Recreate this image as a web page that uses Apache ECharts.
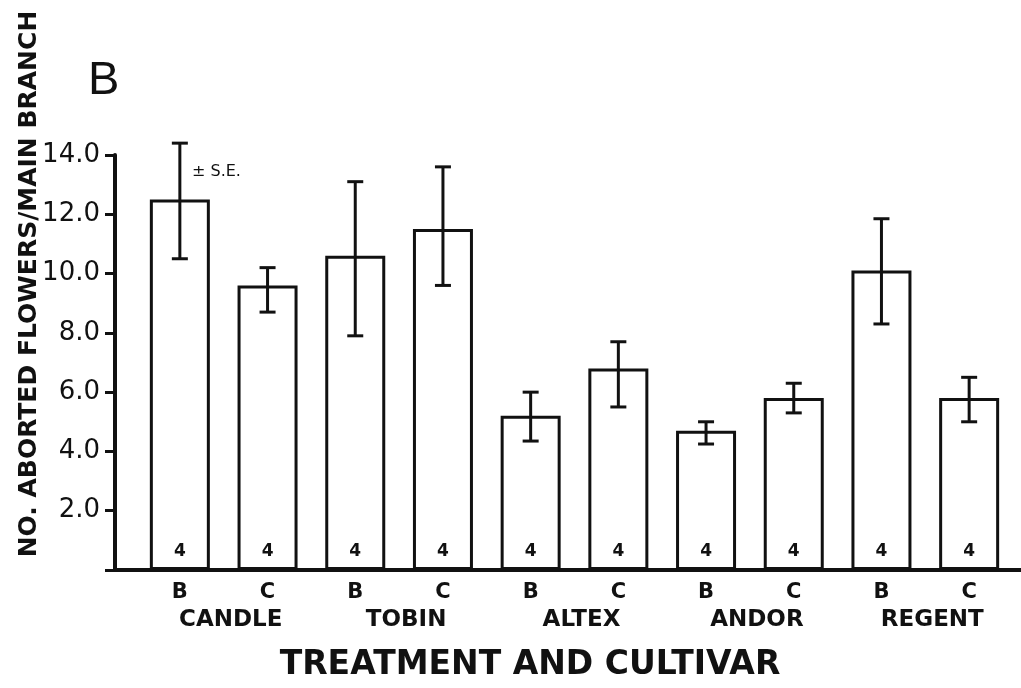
<!DOCTYPE html>
<html>
<head>
<meta charset="utf-8">
<script src="https://cdn.jsdelivr.net/npm/echarts@6/dist/echarts.min.js"></script>
<style>
html,body{margin:0;padding:0;background:#fff;}
#chart{width:1021px;height:688px;}
</style>
</head>
<body>
<div id="chart"></div>
<script>
// ---- data ----
const treatments = ['B','C','B','C','B','C','B','C','B','C'];
const cultivars = ['CANDLE','TOBIN','ALTEX','ANDOR','REGENT'];
const means   = [12.5, 9.6, 10.6, 11.5, 5.2, 6.8, 4.7, 5.8, 10.1, 5.8];
const seLow   = [10.5, 8.7, 7.9, 9.6, 4.35, 5.5, 4.25, 5.3, 8.3, 5.0];
const seHigh  = [14.4, 10.2, 13.1, 13.6, 6.0, 7.7, 5.0, 6.3, 11.85, 6.5];
const nReps   = [4, 4, 4, 4, 4, 4, 4, 4, 4, 4];
const yTicks  = ['2.0','4.0','6.0','8.0','10.0','12.0','14.0'];
const yMin = 0, yMax = 14, yStep = 2;

const errData = means.map((m, i) => [i, seLow[i], seHigh[i]]);

const chart = echarts.init(document.getElementById('chart'), null, {renderer: 'canvas'});
const TXT = '#111';
chart.setOption({
  backgroundColor: '#fff',
  animation: false,
  grid: [
    {left: 136, right: 8, top: 155, bottom: 118},
    {left: 115, right: 0, top: 155, bottom: 118}
  ],
  xAxis: [
    {
      type: 'category', gridIndex: 0, data: treatments,
      axisLine: {show: false}, axisTick: {show: false},
      axisLabel: {margin: 12, color: TXT, fontFamily: 'DejaVu Sans', fontWeight: 'bold', fontSize: 21}
    },
    {
      type: 'category', gridIndex: 0, position: 'bottom', data: cultivars,
      axisLine: {show: false}, axisTick: {show: false},
      axisLabel: {margin: 39, padding: [0, 0, 0, 14], color: TXT, fontFamily: 'DejaVu Sans', fontWeight: 'bold', fontSize: 23}
    },
    {
      type: 'value', gridIndex: 1, min: 0, max: 1,
      axisLine: {show: true, lineStyle: {color: TXT, width: 4}},
      axisTick: {show: false}, axisLabel: {show: false}, splitLine: {show: false}
    }
  ],
  yAxis: [
    {
      type: 'value', gridIndex: 0, min: yMin, max: yMax, interval: yStep, offset: 21,
      axisLine: {show: true, lineStyle: {color: TXT, width: 4}},
      axisTick: {show: true, length: 10, lineStyle: {color: TXT, width: 3}},
      splitLine: {show: false},
      axisLabel: {
        margin: 15, color: TXT, fontFamily: 'DejaVu Sans', fontSize: 26,
        formatter: v => { const k = Math.round(v / yStep) - 1; return k >= 0 ? yTicks[k] : ''; }
      }
    },
    {type: 'value', gridIndex: 1, min: 0, max: 1, show: false}
  ],
  series: [
    {
      type: 'bar', xAxisIndex: 0, yAxisIndex: 0, data: means, barWidth: 60,
      itemStyle: {color: '#fff', borderColor: TXT, borderWidth: 3},
      label: {
        show: true, position: 'insideBottom', distance: 10,
        formatter: p => String(nReps[p.dataIndex]),
        color: TXT, fontFamily: 'DejaVu Sans', fontWeight: 'bold', fontSize: 17
      }
    },
    {
      type: 'custom', xAxisIndex: 0, yAxisIndex: 0, data: errData, clip: false, z: 5,
      renderItem: function (params, api) {
        const x = api.value(0);
        const lo = api.coord([x, api.value(1)]);
        const hi = api.coord([x, api.value(2)]);
        const w = 8;
        const st = {stroke: TXT, lineWidth: 3};
        return {
          type: 'group',
          children: [
            {type: 'line', shape: {x1: lo[0], y1: lo[1], x2: hi[0], y2: hi[1]}, style: st},
            {type: 'line', shape: {x1: hi[0] - w, y1: hi[1], x2: hi[0] + w, y2: hi[1]}, style: st},
            {type: 'line', shape: {x1: lo[0] - w, y1: lo[1], x2: lo[0] + w, y2: lo[1]}, style: st}
          ]
        };
      }
    }
  ],
  graphic: [
    {type: 'text', left: 88, top: 58, style: {text: 'B', fontFamily: 'Liberation Sans', fontSize: 47, fill: TXT}},
    {type: 'text', x: 192, y: 172, style: {text: '± S.E.', fontFamily: 'DejaVu Sans', fontSize: 16, fill: TXT, textVerticalAlign: 'middle'}},
    {type: 'text', x: 530, y: 665, style: {text: 'TREATMENT AND CULTIVAR', fontFamily: 'DejaVu Sans', fontWeight: 'bold', fontSize: 33, fill: TXT, textAlign: 'center', textVerticalAlign: 'middle'}},
    {type: 'text', x: 29, y: 284, rotation: Math.PI / 2,
     style: {text: 'NO. ABORTED FLOWERS/MAIN BRANCH', fontFamily: 'DejaVu Sans', fontWeight: 'bold', fontSize: 25, fill: TXT, textAlign: 'center', textVerticalAlign: 'middle'}}
  ]
});
</script>
</body>
</html>
